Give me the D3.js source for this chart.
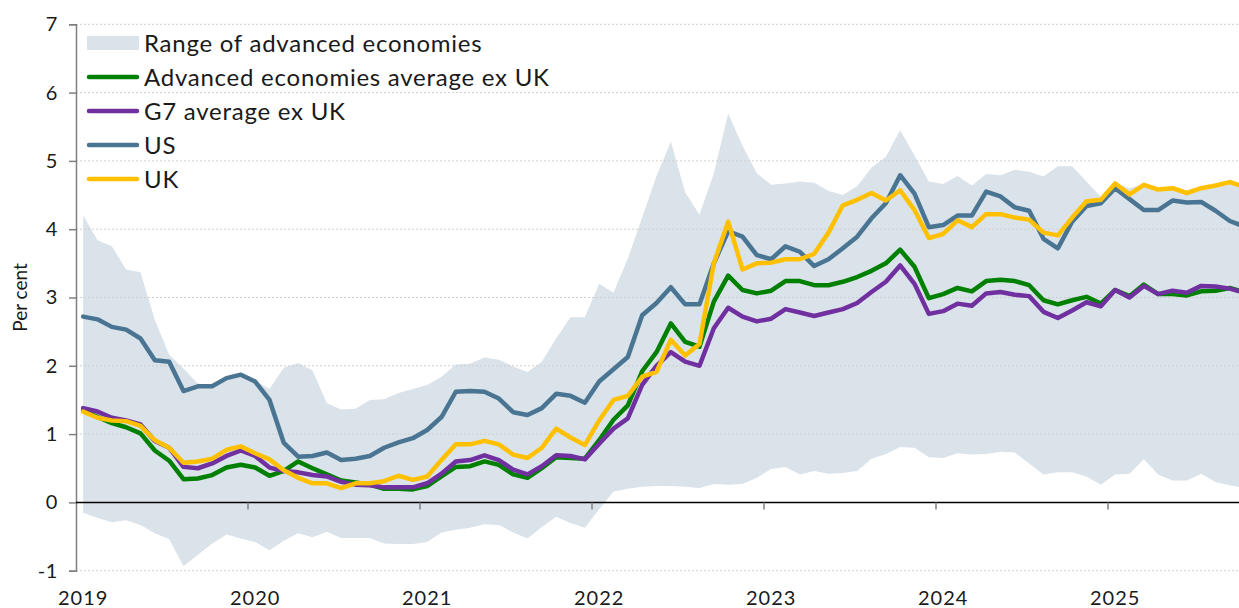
<!DOCTYPE html>
<html>
<head>
<meta charset="utf-8">
<script src="https://cdn.jsdelivr.net/npm/d3@7"></script>
<style>
  body { margin: 0; background: #fff; }
  svg { display: block; }
  text { font-family: Lato, "Noto Sans", sans-serif; fill: #1a1a1a; }
</style>
</head>
<body>
<svg id="chart" width="1239" height="608"></svg>
<script>
// monthly, Jan 2019 - Oct 2025
const months = d3.timeMonth.range(new Date(2019, 0, 1), new Date(2025, 10, 1));
const yearLabels = ['2019', '2020', '2021', '2022', '2023', '2024', '2025'];
const yTicks = [-1, 0, 1, 2, 3, 4, 5, 6, 7];

const rangeHigh = [
  4.20, 3.84, 3.75, 3.41, 3.37, 2.67, 2.16, 1.96, 1.74, 1.71, 1.83, 1.88,
  1.78, 1.66, 1.97, 2.04, 1.93, 1.45, 1.36, 1.37, 1.50, 1.51, 1.60, 1.66,
  1.72, 1.84, 2.02, 2.03, 2.12, 2.09, 1.99, 1.91, 2.06, 2.40, 2.71, 2.71,
  3.20, 3.07, 3.57, 4.17, 4.78, 5.28, 4.54, 4.21, 4.82, 5.69, 5.22, 4.82,
  4.65, 4.67, 4.70, 4.68, 4.56, 4.50, 4.63, 4.90, 5.06, 5.45, 5.08, 4.70,
  4.66, 4.78, 4.64, 4.81, 4.79, 4.87, 4.84, 4.77, 4.92, 4.92, 4.70, 4.47,
  4.68, 4.60, 4.66, 4.59, 4.61, 4.54, 4.61, 4.65, 4.70, 4.63
];
const rangeLow = [
  -0.15, -0.23, -0.29, -0.26, -0.33, -0.45, -0.54, -0.93, -0.77, -0.60, -0.47, -0.53,
  -0.58, -0.70, -0.56, -0.45, -0.51, -0.43, -0.52, -0.52, -0.52, -0.60, -0.61, -0.61,
  -0.58, -0.44, -0.40, -0.37, -0.32, -0.33, -0.44, -0.53, -0.36, -0.21, -0.30, -0.37,
  -0.10, 0.16, 0.20, 0.23, 0.24, 0.24, 0.23, 0.21, 0.27, 0.26, 0.27, 0.36,
  0.49, 0.52, 0.41, 0.46, 0.42, 0.43, 0.46, 0.64, 0.71, 0.81, 0.80, 0.66,
  0.65, 0.72, 0.70, 0.71, 0.74, 0.73, 0.57, 0.41, 0.44, 0.44, 0.38, 0.26,
  0.41, 0.42, 0.63, 0.41, 0.32, 0.32, 0.42, 0.30, 0.25, 0.21
];
const advAvg = [
  1.35, 1.25, 1.16, 1.10, 1.01, 0.76, 0.61, 0.34, 0.35, 0.40, 0.51, 0.55,
  0.51, 0.39, 0.46, 0.60, 0.50, 0.41, 0.32, 0.29, 0.26, 0.20, 0.20, 0.19,
  0.24, 0.38, 0.52, 0.53, 0.60, 0.55, 0.41, 0.36, 0.50, 0.66, 0.65, 0.64,
  0.91, 1.21, 1.42, 1.92, 2.20, 2.62, 2.35, 2.28, 2.94, 3.32, 3.11, 3.06,
  3.10, 3.24, 3.24, 3.18, 3.18, 3.23, 3.30, 3.39, 3.50, 3.70, 3.45, 2.99,
  3.05, 3.14, 3.09, 3.24, 3.26, 3.24, 3.18, 2.96, 2.90, 2.96, 3.01, 2.91,
  3.11, 3.02, 3.19, 3.05, 3.05, 3.03, 3.09, 3.10, 3.14, 3.08
];
const g7Avg = [
  1.38, 1.33, 1.24, 1.20, 1.14, 0.90, 0.80, 0.52, 0.50, 0.57, 0.68, 0.76,
  0.68, 0.51, 0.46, 0.44, 0.40, 0.38, 0.30, 0.26, 0.25, 0.22, 0.22, 0.22,
  0.28, 0.42, 0.60, 0.62, 0.69, 0.62, 0.48, 0.41, 0.53, 0.69, 0.68, 0.63,
  0.86, 1.08, 1.23, 1.72, 2.00, 2.20, 2.06, 2.00, 2.55, 2.85, 2.72, 2.65,
  2.69, 2.83, 2.78, 2.73, 2.78, 2.83, 2.92, 3.08, 3.23, 3.47, 3.20, 2.76,
  2.80, 2.91, 2.88, 3.06, 3.08, 3.04, 3.02, 2.79, 2.70, 2.81, 2.93, 2.87,
  3.11, 3.00, 3.17, 3.05, 3.10, 3.07, 3.17, 3.16, 3.13, 3.07
];
const us = [
  2.72, 2.68, 2.57, 2.53, 2.40, 2.08, 2.06, 1.63, 1.70, 1.70, 1.82, 1.87,
  1.77, 1.50, 0.87, 0.67, 0.68, 0.73, 0.62, 0.64, 0.68, 0.80, 0.88, 0.94,
  1.06, 1.25, 1.62, 1.63, 1.62, 1.52, 1.32, 1.28, 1.38, 1.59, 1.56, 1.46,
  1.77, 1.95, 2.13, 2.74, 2.92, 3.15, 2.90, 2.90, 3.50, 3.97, 3.89, 3.62,
  3.56, 3.75, 3.67, 3.46, 3.56, 3.72, 3.89, 4.16, 4.38, 4.79, 4.52, 4.03,
  4.06, 4.20, 4.20, 4.55, 4.48, 4.32, 4.27, 3.86, 3.72, 4.11, 4.34, 4.38,
  4.60, 4.44, 4.28, 4.28, 4.42, 4.39, 4.40, 4.27, 4.12, 4.04
];
const uk = [
  1.33, 1.24, 1.20, 1.19, 1.12, 0.91, 0.80, 0.58, 0.60, 0.64, 0.77, 0.82,
  0.72, 0.63, 0.47, 0.36, 0.28, 0.28, 0.21, 0.28, 0.28, 0.31, 0.39, 0.33,
  0.38, 0.62, 0.85, 0.85, 0.90, 0.85, 0.70, 0.65, 0.80, 1.08, 0.95, 0.84,
  1.20, 1.50, 1.56, 1.84, 1.91, 2.38, 2.15, 2.32, 3.50, 4.11, 3.41, 3.50,
  3.51, 3.56, 3.56, 3.64, 3.95, 4.35, 4.43, 4.53, 4.42, 4.57, 4.28, 3.87,
  3.93, 4.13, 4.03, 4.22, 4.22, 4.17, 4.14, 3.95, 3.91, 4.17, 4.41, 4.43,
  4.67, 4.51, 4.65, 4.58, 4.60, 4.53, 4.60, 4.64, 4.69, 4.62
];

const series = [
  { name: 'Advanced economies average ex UK', values: advAvg, color: '#008000' },
  { name: 'G7 average ex UK', values: g7Avg, color: '#7030a0' },
  { name: 'US', values: us, color: '#4a7592' },
  { name: 'UK', values: uk, color: '#ffc000' }
];
const rangeName = 'Range of advanced economies';
const rangeColor = '#dae2ea';

const width = 1239, height = 608;
const left = 76;
const monthW = (1108 - 76) / 72;

const svg = d3.select('#chart');

const x = d3.scaleBand()
  .domain(months)
  .range([left, left + months.length * monthW])
  .paddingInner(0);

const y = d3.scaleLinear()
  .domain([-1, 7])
  .range([570.7, 24.3]);

const cx = d => x(d) + x.bandwidth() / 2;

// range band
const area = d3.area()
  .x((d, i) => cx(months[i]))
  .y0((d, i) => y(rangeLow[i]))
  .y1(d => y(d));

svg.append('path')
  .datum(rangeHigh)
  .attr('d', area)
  .attr('fill', rangeColor)

// grid
svg.append('g')
  .selectAll('line')
  .data(yTicks.filter(v => v !== 0))
  .join('line')
    .attr('x1', left)
    .attr('x2', width)
    .attr('y1', d => y(d))
    .attr('y2', d => y(d))
    .attr('stroke', '#cfcfcf')
    .attr('stroke-width', 1)
    .attr('stroke-dasharray', '2,2')

// y axis
const yAxis = svg.append('g')
  .attr('transform', `translate(${left},0)`)
  .call(d3.axisLeft(y).tickValues(yTicks).tickSize(7).tickPadding(11).tickFormat(d => String(d)))

yAxis.select('.domain').attr('stroke', '#808080').attr('stroke-width', 1.5)
yAxis.selectAll('.tick line').attr('stroke', '#808080').attr('stroke-width', 1.5)
yAxis.selectAll('.tick text')
  .style('font-size', '20px')
  .style('letter-spacing', '0.6px')
  .attr('fill', '#1a1a1a')

// zero line
svg.append('line')
  .attr('x1', left)
  .attr('x2', width)
  .attr('y1', y(0))
  .attr('y2', y(0))
  .attr('stroke', '#000')
  .attr('stroke-width', 1.5)

// x ticks and year labels
const januaries = months.filter(d => d.getMonth() === 0);

svg.append('g')
  .selectAll('line')
  .data(januaries.slice(1))
  .join('line')
    .attr('x1', d => x(d))
    .attr('x2', d => x(d))
    .attr('y1', y(0))
    .attr('y2', y(0) + 7)
    .attr('stroke', '#808080')
    .attr('stroke-width', 1.5)

svg.append('g')
  .selectAll('text')
  .data(januaries)
  .join('text')
    .attr('x', d => cx(d))
    .attr('y', 605)
    .attr('text-anchor', 'middle')
    .style('font-size', '20px')
    .style('letter-spacing', '1px')
    .text((d, i) => yearLabels[i])

// y title
svg.append('text')
  .attr('transform', `translate(27,${y(3)}) rotate(-90)`)
  .attr('text-anchor', 'middle')
  .style('font-size', '19px')
  .text('Per cent')

// lines
const line = d3.line()
  .x((d, i) => cx(months[i]))
  .y(d => y(d));

svg.append('g')
  .selectAll('path')
  .data(series)
  .join('path')
    .attr('d', d => line(d.values))
    .attr('fill', 'none')
    .attr('stroke', d => d.color)
    .attr('stroke-width', 4.5)
    .attr('stroke-linejoin', 'round')
    .attr('stroke-linecap', 'round')

// legend
const legend = svg.append('g').attr('transform', 'translate(87,43)');
const rowH = 34;

legend.append('rect')
  .attr('x', 0)
  .attr('y', -7)
  .attr('width', 52)
  .attr('height', 14)
  .attr('fill', rangeColor)

legend.append('text')
  .attr('x', 57)
  .attr('y', 0)
  .attr('dy', '0.36em')
  .style('font-size', '24px')
  .style('letter-spacing', '0.75px')
  .text(rangeName)

const items = legend.selectAll('.item')
  .data(series)
  .join('g')
    .attr('class', 'item')
    .attr('transform', (d, i) => `translate(0,${(i + 1) * rowH})`)

items.append('line')
  .attr('x1', 2)
  .attr('x2', 50)
  .attr('stroke', d => d.color)
  .attr('stroke-width', 4.5)
  .attr('stroke-linecap', 'round')

items.append('text')
  .attr('x', 57)
  .attr('dy', '0.36em')
  .style('font-size', '24px')
  .style('letter-spacing', '0.75px')
  .text(d => d.name)
</script>
</body>
</html>
